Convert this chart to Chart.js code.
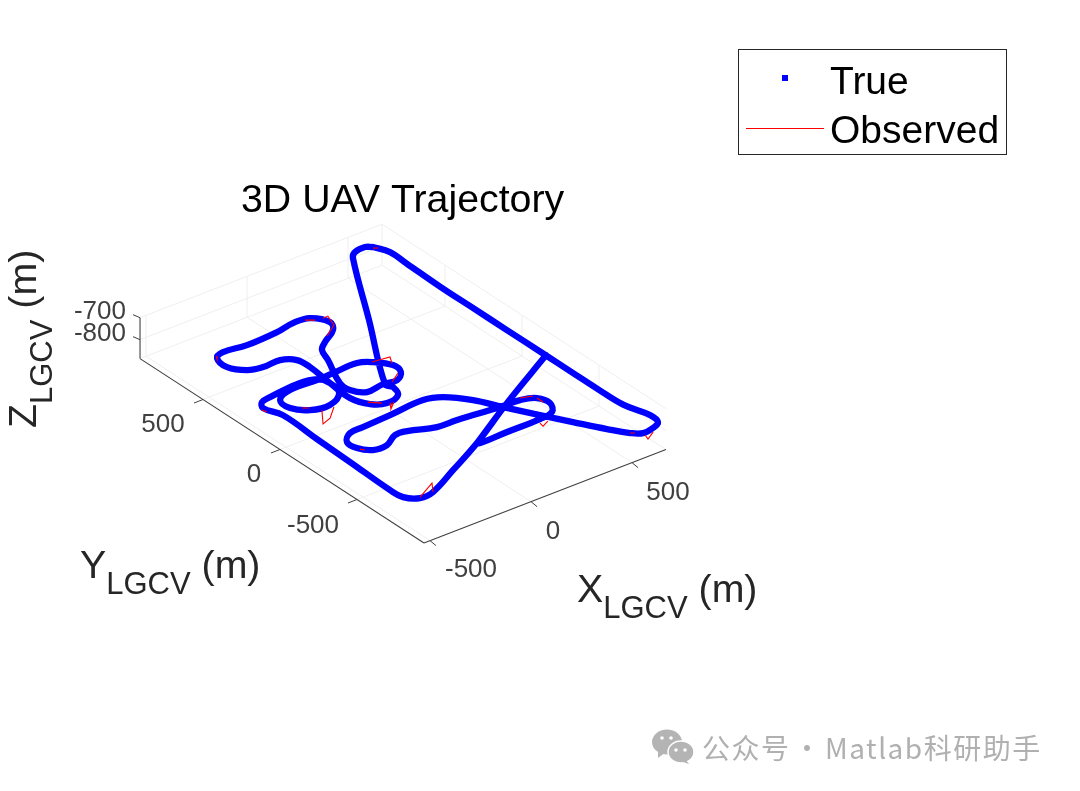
<!DOCTYPE html>
<html><head><meta charset="utf-8">
<style>html,body{margin:0;padding:0;background:#fff}#w{position:relative;width:1080px;height:791px}canvas{display:block}</style>
<script src="https://cdn.jsdelivr.net/npm/chart.js@4"></script>
</head><body><div id="w"><canvas id="c" width="1080" height="791"></canvas></div>
<script>
// Trajectory, metres in the LGCV frame
const trueX = [636,665,662,655,655,655,655,655,655,660,693,684,640,585,545,492,420,351,275,215,136,60,-114,-256,-325,-377,-375,-335,-267,-195,-138,-26,70,265,361,423,440,403,332,168,31,22,22,306,657,657,306,22,-182,-349,-418,-466,-473,-463,-456,-447,-475,-450,-401,-255,-169,-148,-167,-253,-339,-391,-384,-305,-174,-91,32,86,134,125,75,12,-76,-119,-117,-44,-15,33,115,144,101,24,-68,-224,-332,-379,-391,-343,-279,-193,-140,-133,-148,-157,-124,-66,6,29,18,275,521,556,611,636];
const trueY = [926,853,743,513,307,81,-151,-349,-514,-671,-799,-862,-887,-895,-863,-782,-656,-532,-393,-276,-185,-155,-169,-179,-185,-234,-296,-347,-350,-307,-311,-358,-363,-385,-390,-418,-481,-542,-557,-559,-563,-555,-555,-377,-171,-171,-377,-555,-667,-756,-762,-715,-640,-367,-143,90,182,222,234,250,233,177,92,39,56,117,191,230,227,232,237,204,137,74,33,42,31,85,153,326,403,446,502,559,633,643,625,616,630,607,526,459,439,442,401,326,177,34,-52,-87,-63,-1,37,478,905,938,945,926];
// Visible pieces of the observed track; null breaks the line
const obsX = [-413,-309,-349,null,-302,-365,-315,-250,null,-57,-83,-40,null,83,163,140,null,111,50,null,141,166,142,68,null,582,572,621,null,313,308,347,null,370,420,null,423,423,null,76,107,null,-354,-332,null,-121,-82,null,-488,-482,null,-372,-384,null,631,647,null,545,560,null,-370,-359];
const obsY = [-756,-697,-756,null,27,-63,-43,17,null,-94,-134,-97,null,207,195,152,null,75,33,null,601,602,531,479,null,-912,-944,-913,null,-582,-609,-589,null,-377,-396,null,-418,-458,null,632,608,null,88,71,null,-34,-75,null,172,148,null,622,601,null,919,907,null,-863,-875,null,-310,-328];
const flightZ = -800;
const xTicks = [-500,0,500];
const yTicks = [-500,0,500];
const zTicks = [-800,-700];
const xLim = [-530,668], yLim = [-935,909], zLim = [-886,-700];

// View projection of the 3D axes onto the drawing plane
function project(x,y,z){
  return {x:424+(x-xLim[0])*0.202-(y-yLim[0])*0.154,
          y:543-(x-xLim[0])*0.078-(y-yLim[0])*0.1-(z-zLim[0])*0.22};
}
function build(xs,ys){
  return xs.map((v,i)=>v===null?{x:NaN,y:NaN}:project(v,ys[i],flightZ));
}

const FONT='"Liberation Sans", Arial, sans-serif';
const axes3d={
  id:'axes3d',
  beforeDatasetsDraw(chart){
    const c=chart.ctx,sx=chart.scales.x,sy=chart.scales.y;
    const P=(x,y,z)=>{const p=project(x,y,z);return [sx.getPixelForValue(p.x),sy.getPixelForValue(p.y)];};
    const line=(a,b,col,w)=>{c.beginPath();c.moveTo(a[0],a[1]);c.lineTo(b[0],b[1]);c.strokeStyle=col;c.lineWidth=w;c.stroke();};
    const [x0,x1]=xLim,[y0,y1]=yLim,[z0,z1]=zLim;
    c.save();
    const g='#efefef';
    xTicks.forEach(t=>{line(P(t,y0,z0),P(t,y1,z0),g,1);line(P(t,y1,z0),P(t,y1,z1),g,1);});
    yTicks.forEach(t=>{line(P(x0,t,z0),P(x1,t,z0),g,1);line(P(x1,t,z0),P(x1,t,z1),g,1);});
    zTicks.forEach(t=>{line(P(x0,y1,t),P(x1,y1,t),g,1);line(P(x1,y1,t),P(x1,y0,t),g,1);});
    line(P(x0,y1,z0),P(x1,y1,z0),g,1);line(P(x1,y1,z0),P(x1,y0,z0),g,1);
    line(P(x1,y1,z0),P(x1,y1,z1),g,1);
    const ax='#404040';
    line(P(x0,y0,z0),P(x1,y0,z0),ax,1.1);
    line(P(x0,y0,z0),P(x0,y1,z0),ax,1.1);
    line(P(x0,y1,z0),P(x0,y1,z1),ax,1.1);
    xTicks.forEach(t=>{const a=P(t,y0,z0);line(a,[a[0]+6,a[1]+5],ax,1);});
    yTicks.forEach(t=>{const a=P(x0,t,z0);line(a,[a[0]-9,a[1]+3.5],ax,1);});
    zTicks.forEach(t=>{const a=P(x0,y1,t);line(a,[a[0]-7,a[1]-3],ax,1);});
    // tick labels
    c.fillStyle='#404040';c.font='26px '+FONT;c.textBaseline='middle';c.textAlign='center';
    const xl=[[471,570],[553,532],[668,493]];
    xTicks.forEach((t,i)=>c.fillText(String(t),xl[i][0],xl[i][1]));
    const yl=[[313,526],[254,475],[163,425]];
    yTicks.forEach((t,i)=>c.fillText(String(t),yl[i][0],yl[i][1]));
    c.textAlign='right';
    zTicks.forEach((t,i)=>c.fillText(String(t),126,[334,312][i]));
    c.restore();
  },
  afterDraw(chart){
    const c=chart.ctx;
    c.save();
    c.textBaseline='alphabetic';c.textAlign='left';
    // title
    c.fillStyle='#000';c.font='39.3px '+FONT;
    c.fillText('3D UAV Trajectory',241,212);
    // axis labels with subscripts
    const lab=(a,b,d,x,y)=>{
      let cx=x;c.font='39.3px '+FONT;c.fillText(a,cx,y);cx+=c.measureText(a).width;
      c.font='31px '+FONT;c.fillText(b,cx,y+16);cx+=c.measureText(b).width;
      c.font='39.3px '+FONT;c.fillText(d,cx,y);
    };
    c.fillStyle='#262626';
    lab('X','LGCV',' (m)',577,602);
    lab('Y','LGCV',' (m)',80,578);
    c.save();c.translate(36,428);c.rotate(-Math.PI/2);lab('Z','LGCV',' (m)',0,0);c.restore();
    // legend
    c.fillStyle='#fff';c.fillRect(738.5,49.5,268,105);
    c.strokeStyle='#262626';c.lineWidth=1;c.strokeRect(738.5,49.5,268,105);
    const ds=chart.data.datasets;
    c.fillStyle=ds[0].borderColor;c.fillRect(782,75,6,6);
    c.strokeStyle=ds[1].borderColor;c.beginPath();c.moveTo(746,128.5);c.lineTo(824,128.5);c.stroke();
    c.fillStyle='#000';c.font='39px '+FONT;
    c.fillText(ds[0].label,830,94);
    c.fillText(ds[1].label,830,143);
    // watermark
    const w='#b4b4b4';
    c.fillStyle=w;
    c.beginPath();c.ellipse(667,742,15,12.5,0,0,Math.PI*2);c.fill();
    c.beginPath();c.moveTo(658,750);c.lineTo(658,758);c.lineTo(666,752);c.fill();
    c.strokeStyle='#fff';c.lineWidth=1.5;
    c.beginPath();c.ellipse(681,752,13,11,0,0,Math.PI*2);c.fill();c.stroke();
    c.beginPath();c.moveTo(686,760);c.lineTo(689,764);c.lineTo(680,761);c.fill();
    c.fillStyle='#fff';
    [[662,738],[671,738],[676,750],[685,750]].forEach(p=>{c.beginPath();c.arc(p[0],p[1],1.8,0,Math.PI*2);c.fill();});
    c.fillStyle='#b0b0b0';c.font='28px "Noto Sans CJK SC"';c.textBaseline='middle';
    c.letterSpacing='1.5px';
    c.fillText('公众号',702,748);
    c.fillText('·',793,748);
    c.fillText('Matlab科研助手',825,748);
    c.restore();
  }
};

new Chart(document.getElementById('c'),{
  type:'scatter',
  data:{datasets:[
    {label:'True',data:build(trueX,trueY),showLine:true,borderColor:'#0000ff',backgroundColor:'#0000ff',borderWidth:6.3,pointRadius:0,tension:0.4,clip:false,order:2,borderCapStyle:'round',borderJoinStyle:'round'},
    {label:'Observed',data:build(obsX,obsY),showLine:true,borderColor:'#ff0000',backgroundColor:'#ff0000',borderWidth:1.1,pointRadius:0,tension:0,spanGaps:false,clip:false,order:1}
  ]},
  options:{
    responsive:false,animation:false,
    layout:{padding:0},
    plugins:{legend:{display:false},title:{display:false},tooltip:{enabled:false}},
    scales:{
      x:{type:'linear',display:false,min:0,max:1080},
      y:{type:'linear',display:false,min:0,max:791,reverse:true}
    }
  },
  plugins:[axes3d]
});
</script></body></html>
